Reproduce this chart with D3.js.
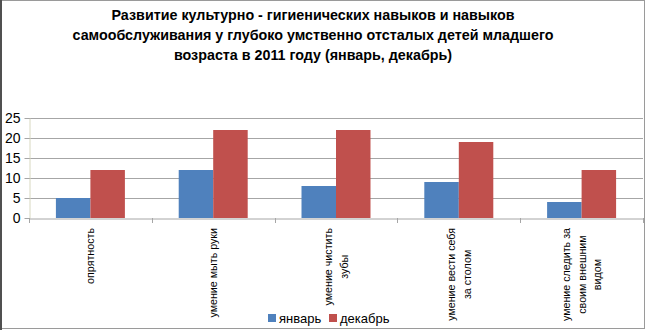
<!DOCTYPE html>
<html><head><meta charset="utf-8">
<script src="https://cdn.jsdelivr.net/npm/d3@7"></script>
<style>
html,body{margin:0;padding:0;background:#fff;}
svg{display:block;}
</style></head>
<body>
<svg id="chart" width="646" height="330"></svg>
<script>
const titleLines = [
  "Развитие культурно - гигиенических навыков и навыков",
  "самообслуживания у глубоко умственно отсталых детей младшего",
  "возраста в 2011 году (январь, декабрь)"
];
const categories = [
  "опрятность",
  "умение мыть руки",
  "умение чистить\nзубы",
  "умение вести  себя\nза столом",
  "умение следить за\nсвоим внешним\nвидом"
];
const seriesNames = ["январь", "декабрь"];
const january = [5, 12, 8, 9, 4];
const december = [12, 22, 22, 19, 12];
const yTicks = [0, 5, 10, 15, 20, 25];
const colors = ["#4F81BD", "#C0504D"];

const svg = d3.select("#chart");
const W = 646, H = 330;
const plot = {left: 29, right: 643, top: 118, bottom: 218};

// border
svg.append("rect").attr("x", 0.5).attr("y", 0.5).attr("width", W - 2).attr("height", H - 2)
  .attr("fill", "#fff").attr("stroke", "#9a9a9a").attr("stroke-width", 1);
svg.append("line").attr("x1", 1).attr("x2", 1).attr("y1", 0).attr("y2", H)
  .attr("stroke", "#505050").attr("stroke-width", 2);

// title
const title = svg.append("text").attr("text-anchor", "middle")
  .attr("font-family", "'Liberation Sans', Arial, sans-serif")
  .attr("font-weight", "bold").attr("font-size", 14.3).attr("fill", "#000");
titleLines.forEach((t, i) => {
  title.append("tspan").attr("x", 313).attr("y", 20 + i * 20).text(t);
});

const y = d3.scaleLinear().domain([0, 25]).range([plot.bottom, plot.top]);
const x = d3.scaleBand().domain(categories).range([plot.left, plot.right]).padding(0);
const xs = d3.scaleBand().domain(seriesNames).range([0, x.bandwidth()]).paddingInner(0).paddingOuter(0.78);

// gridlines
svg.append("g").selectAll("line").data(yTicks.filter(d => d > 0)).join("line")
  .attr("x1", plot.left).attr("x2", plot.right)
  .attr("y1", d => Math.round(y(d)) + 0.5).attr("y2", d => Math.round(y(d)) + 0.5)
  .attr("stroke", "#a6a6a6").attr("stroke-width", 1);

// y axis
const yAxis = svg.append("g").attr("transform", `translate(${plot.left + 0.5},0)`)
  .call(d3.axisLeft(y).tickValues(yTicks).tickSize(5).tickSizeOuter(0));
yAxis.select(".domain").attr("stroke", "#d8d8c0");
yAxis.selectAll(".tick line").attr("stroke", "#a6a6a6");
yAxis.selectAll(".tick text").attr("font-family", "'Liberation Sans', Arial, sans-serif")
  .attr("font-size", 14).attr("fill", "#000").attr("x", -9);

// bars
const data = categories.map((c, i) => ({c, vals: [january[i], december[i]]}));
const groups = svg.append("g").selectAll("g").data(data).join("g")
  .attr("transform", d => `translate(${x(d.c)},0)`);
groups.selectAll("rect").data(d => d.vals.map((v, j) => ({v, s: seriesNames[j], j}))).join("rect")
  .attr("x", d => xs(d.s)).attr("width", xs.bandwidth())
  .attr("y", d => y(d.v)).attr("height", d => y(0) - y(d.v))
  .attr("fill", d => colors[d.j]);

// x axis
const xAxis = svg.append("g").attr("transform", `translate(0,${plot.bottom + 0.5})`)
  .call(d3.axisBottom(x).tickSize(0).tickFormat(""));
xAxis.select(".domain").attr("stroke", "#a6a6a6");
// boundary ticks
svg.append("g").selectAll("line").data(categories.concat([null])).join("line")
  .attr("x1", (d, i) => Math.round(plot.left + i * x.step()) + 0.5)
  .attr("x2", (d, i) => Math.round(plot.left + i * x.step()) + 0.5)
  .attr("y1", plot.bottom).attr("y2", plot.bottom + 5)
  .attr("stroke", "#a6a6a6");

// category labels (rotated)
const lineH = 15.5;
categories.forEach(c => {
  const lines = c.split("\n");
  const cx = x(c) + x.bandwidth() / 2;
  const g = svg.append("g").attr("transform", `translate(${cx},${plot.bottom + 10}) rotate(-90)`);
  const texts = lines.map((l, i) => g.append("text")
    .attr("font-family", "'Liberation Sans', Arial, sans-serif").attr("font-size", 10.7)
    .attr("fill", "#000").attr("text-anchor", "middle")
    .attr("dominant-baseline", "central")
    .attr("y", (i - (lines.length - 1) / 2) * lineH)
    .text(l));
  const maxL = d3.max(texts, t => t.node().getComputedTextLength());
  texts.forEach(t => t.attr("x", -maxL / 2));
});

// legend
const legendItems = [{name: seriesNames[0], x: 268}, {name: seriesNames[1], x: 329}];
legendItems.forEach((it, i) => {
  svg.append("rect").attr("x", it.x).attr("y", 314).attr("width", 8).attr("height", 8).attr("fill", colors[i]);
  svg.append("text").attr("x", it.x + 11).attr("y", 323)
    .attr("font-family", "'Liberation Sans', Arial, sans-serif").attr("font-size", 13)
    .attr("fill", "#000").text(it.name);
});
</script>
</body></html>
